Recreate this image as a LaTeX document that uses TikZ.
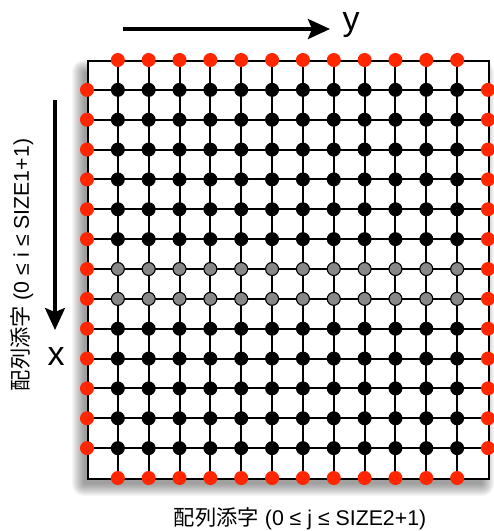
\documentclass[tikz,border=0pt]{standalone}
\usepackage{fontspec}
\setmainfont{Liberation Sans}
\newfontfamily\jp{Noto Sans CJK JP}
\usetikzlibrary{arrows.meta}
\definecolor{dotred}{RGB}{255,38,0}
\definecolor{dotgray}{RGB}{136,136,136}
\begin{document}
\begin{tikzpicture}[x=1pt,y=-1pt,
  gridline/.style={line width=2pt,black},
  framebox/.style={draw,fill=white,line width=2pt,inner sep=0pt,anchor=north west},
  reddot/.style={circle,fill=dotred,inner sep=0pt,minimum size=14pt},
  blackdot/.style={circle,fill=black,inner sep=0pt,minimum size=14pt},
  graydot/.style={circle,fill=dotgray,draw=black,line width=1.1pt,inner sep=0pt,minimum size=13pt},
  axis/.style={line width=3.5pt,-{Stealth[length=22pt,width=20pt,inset=4pt]}},
  axlabel/.style={font=\fontsize{34}{34}\selectfont,inner sep=0pt},
  idxlabel/.style={font=\fontsize{21.3}{23}\selectfont,inner sep=0pt}]
\useasboundingbox (0,0) rectangle (494,531);
% shadow
\foreach \r in {12,11,...,0}{
  \fill[black,opacity=0.035,rounded corners=\r pt] (84-\r,72-\r) rectangle (482+\r,484+\r);
}
% frame
\node[framebox,minimum width=401pt,minimum height=418pt] (frame) at (87,60) {};
% coordinates
\foreach \j in {1,...,12}{
  \pgfmathsetmacro\xx{87+30.846*\j}
  \coordinate (t\j) at (\xx,60);
  \coordinate (b\j) at (\xx,478);
}
\foreach \i in {1,...,13}{
  \pgfmathsetmacro\yy{60+29.857*\i}
  \coordinate (l\i) at (87,\yy);
  \coordinate (r\i) at (488,\yy);
}
% grid lines
\foreach \j in {1,...,12}{ \draw[gridline] (t\j) -- (b\j); }
\foreach \i in {1,...,13}{ \draw[gridline] (l\i) -- (r\i); }
% boundary dots
\foreach \j in {1,...,12}{
  \node[reddot] (dt\j) at (t\j) {};
  \node[reddot] (db\j) at (b\j) {};
}
\foreach \i in {1,...,13}{
  \node[reddot] (dl\i) at (l\i) {};
  \node[reddot] (dr\i) at (r\i) {};
}
% interior dots
\foreach \i in {1,...,13}{
  \foreach \j in {1,...,12}{
    \def\st{blackdot}
    \ifnum\i=7 \def\st{graydot}\fi
    \ifnum\i=8 \def\st{graydot}\fi
    \node[\st] (d\i-\j) at (t\j |- l\i) {};
  }
}
% axes
\coordinate (ys) at (123,29);
\coordinate (ye) at (330,29);
\draw[axis] (ys) -- (ye);
\node[axlabel] (ylab) at (351,25) {y};
\coordinate (xs) at (55,100);
\coordinate (xe) at (55,330);
\draw[axis] (xs) -- (xe);
\node[axlabel] (xlab) at (56,357) {x};
% index labels
\node[idxlabel] (jlab) at (300,519) {{\jp 配列添字} (0 ≤ j ≤ SIZE2+1)};
\node[idxlabel,rotate=90] (ilab) at (22,265) {{\jp 配列添字} (0 ≤ i ≤ SIZE1+1)};
\end{tikzpicture}
\end{document}
